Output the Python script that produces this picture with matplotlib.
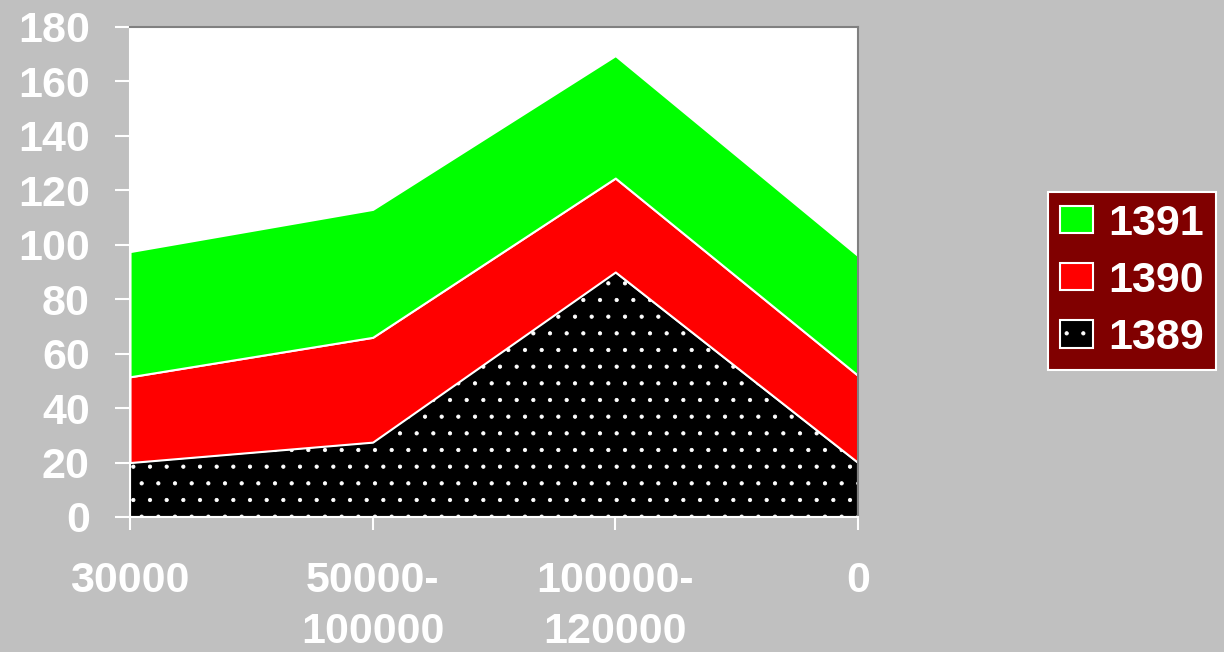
import matplotlib.pyplot as plt
import matplotlib.patches as mpatches

plt.rcParams['font.family'] = ['Liberation Sans', 'DejaVu Sans']
plt.rcParams['hatch.linewidth'] = 0.6

categories = ['30000', '50000-\n100000', '100000-\n120000', '0']
series_names = ['1389', '1390', '1391']
v1389 = [20, 27.5, 90, 20]
v1390 = [31.5, 38.5, 34.5, 32]
v1391 = [46, 47, 45, 44]
y_ticks = list(range(0, 181, 20))

colors = ['black', '#FF0000', '#00FF00']


def plot():
    fig = plt.figure(figsize=(12.24, 6.52), dpi=100, facecolor='#C0C0C0')
    ax = fig.add_axes([130 / 1224, 135 / 652, 728 / 1224, 490 / 652])
    ax.set_facecolor('white')

    x = list(range(len(categories)))
    polys = ax.stackplot(x, v1389, v1390, v1391, colors=colors,
                         edgecolor='white', linewidth=1.5)
    polys[0].set_hatch('.')

    ax.set_xlim(0, len(categories) - 1)
    ax.set_ylim(0, 180)
    ax.set_yticks(y_ticks)
    ax.set_xticks(x)
    ax.set_xticklabels(categories, linespacing=1.35)

    for lab in ax.get_xticklabels() + ax.get_yticklabels():
        lab.set_fontweight('bold')
        lab.set_fontsize(31)
        lab.set_color('white')

    ax.tick_params(axis='y', length=11, width=1.5, color='white', pad=18)
    ax.tick_params(axis='x', length=9, width=1.5, color='white', pad=23)

    ax.spines['left'].set_color('white')
    ax.spines['bottom'].set_color('white')
    ax.spines['left'].set_linewidth(1.5)
    ax.spines['bottom'].set_linewidth(1.5)
    ax.spines['top'].set_color('#808080')
    ax.spines['right'].set_color('#808080')
    ax.spines['top'].set_linewidth(1.5)
    ax.spines['right'].set_linewidth(1.5)

    handles = []
    for name, c in zip(series_names, colors):
        h = mpatches.Patch(facecolor=c, edgecolor='white', linewidth=1.5, label=name)
        if name == '1389':
            h.set_hatch('.')
        handles.append(h)
    handles.reverse()

    leg = fig.legend(handles=handles, loc='center', bbox_to_anchor=(1132 / 1224, 1 - 281 / 652),
                     frameon=True, fancybox=False, facecolor='#800000', edgecolor='white',
                     prop={'weight': 'bold', 'size': 31}, labelcolor='white',
                     handlelength=0.77, handleheight=0.6, handletextpad=0.37,
                     labelspacing=0.4, borderpad=0.28, borderaxespad=0)
    leg.get_frame().set_linewidth(1.5)
    leg.get_frame().set_alpha(1)

    return fig


def main():
    fig = plot()
    fig.savefig('out.png', dpi=100, facecolor=fig.get_facecolor())


if __name__ == '__main__':
    main()
